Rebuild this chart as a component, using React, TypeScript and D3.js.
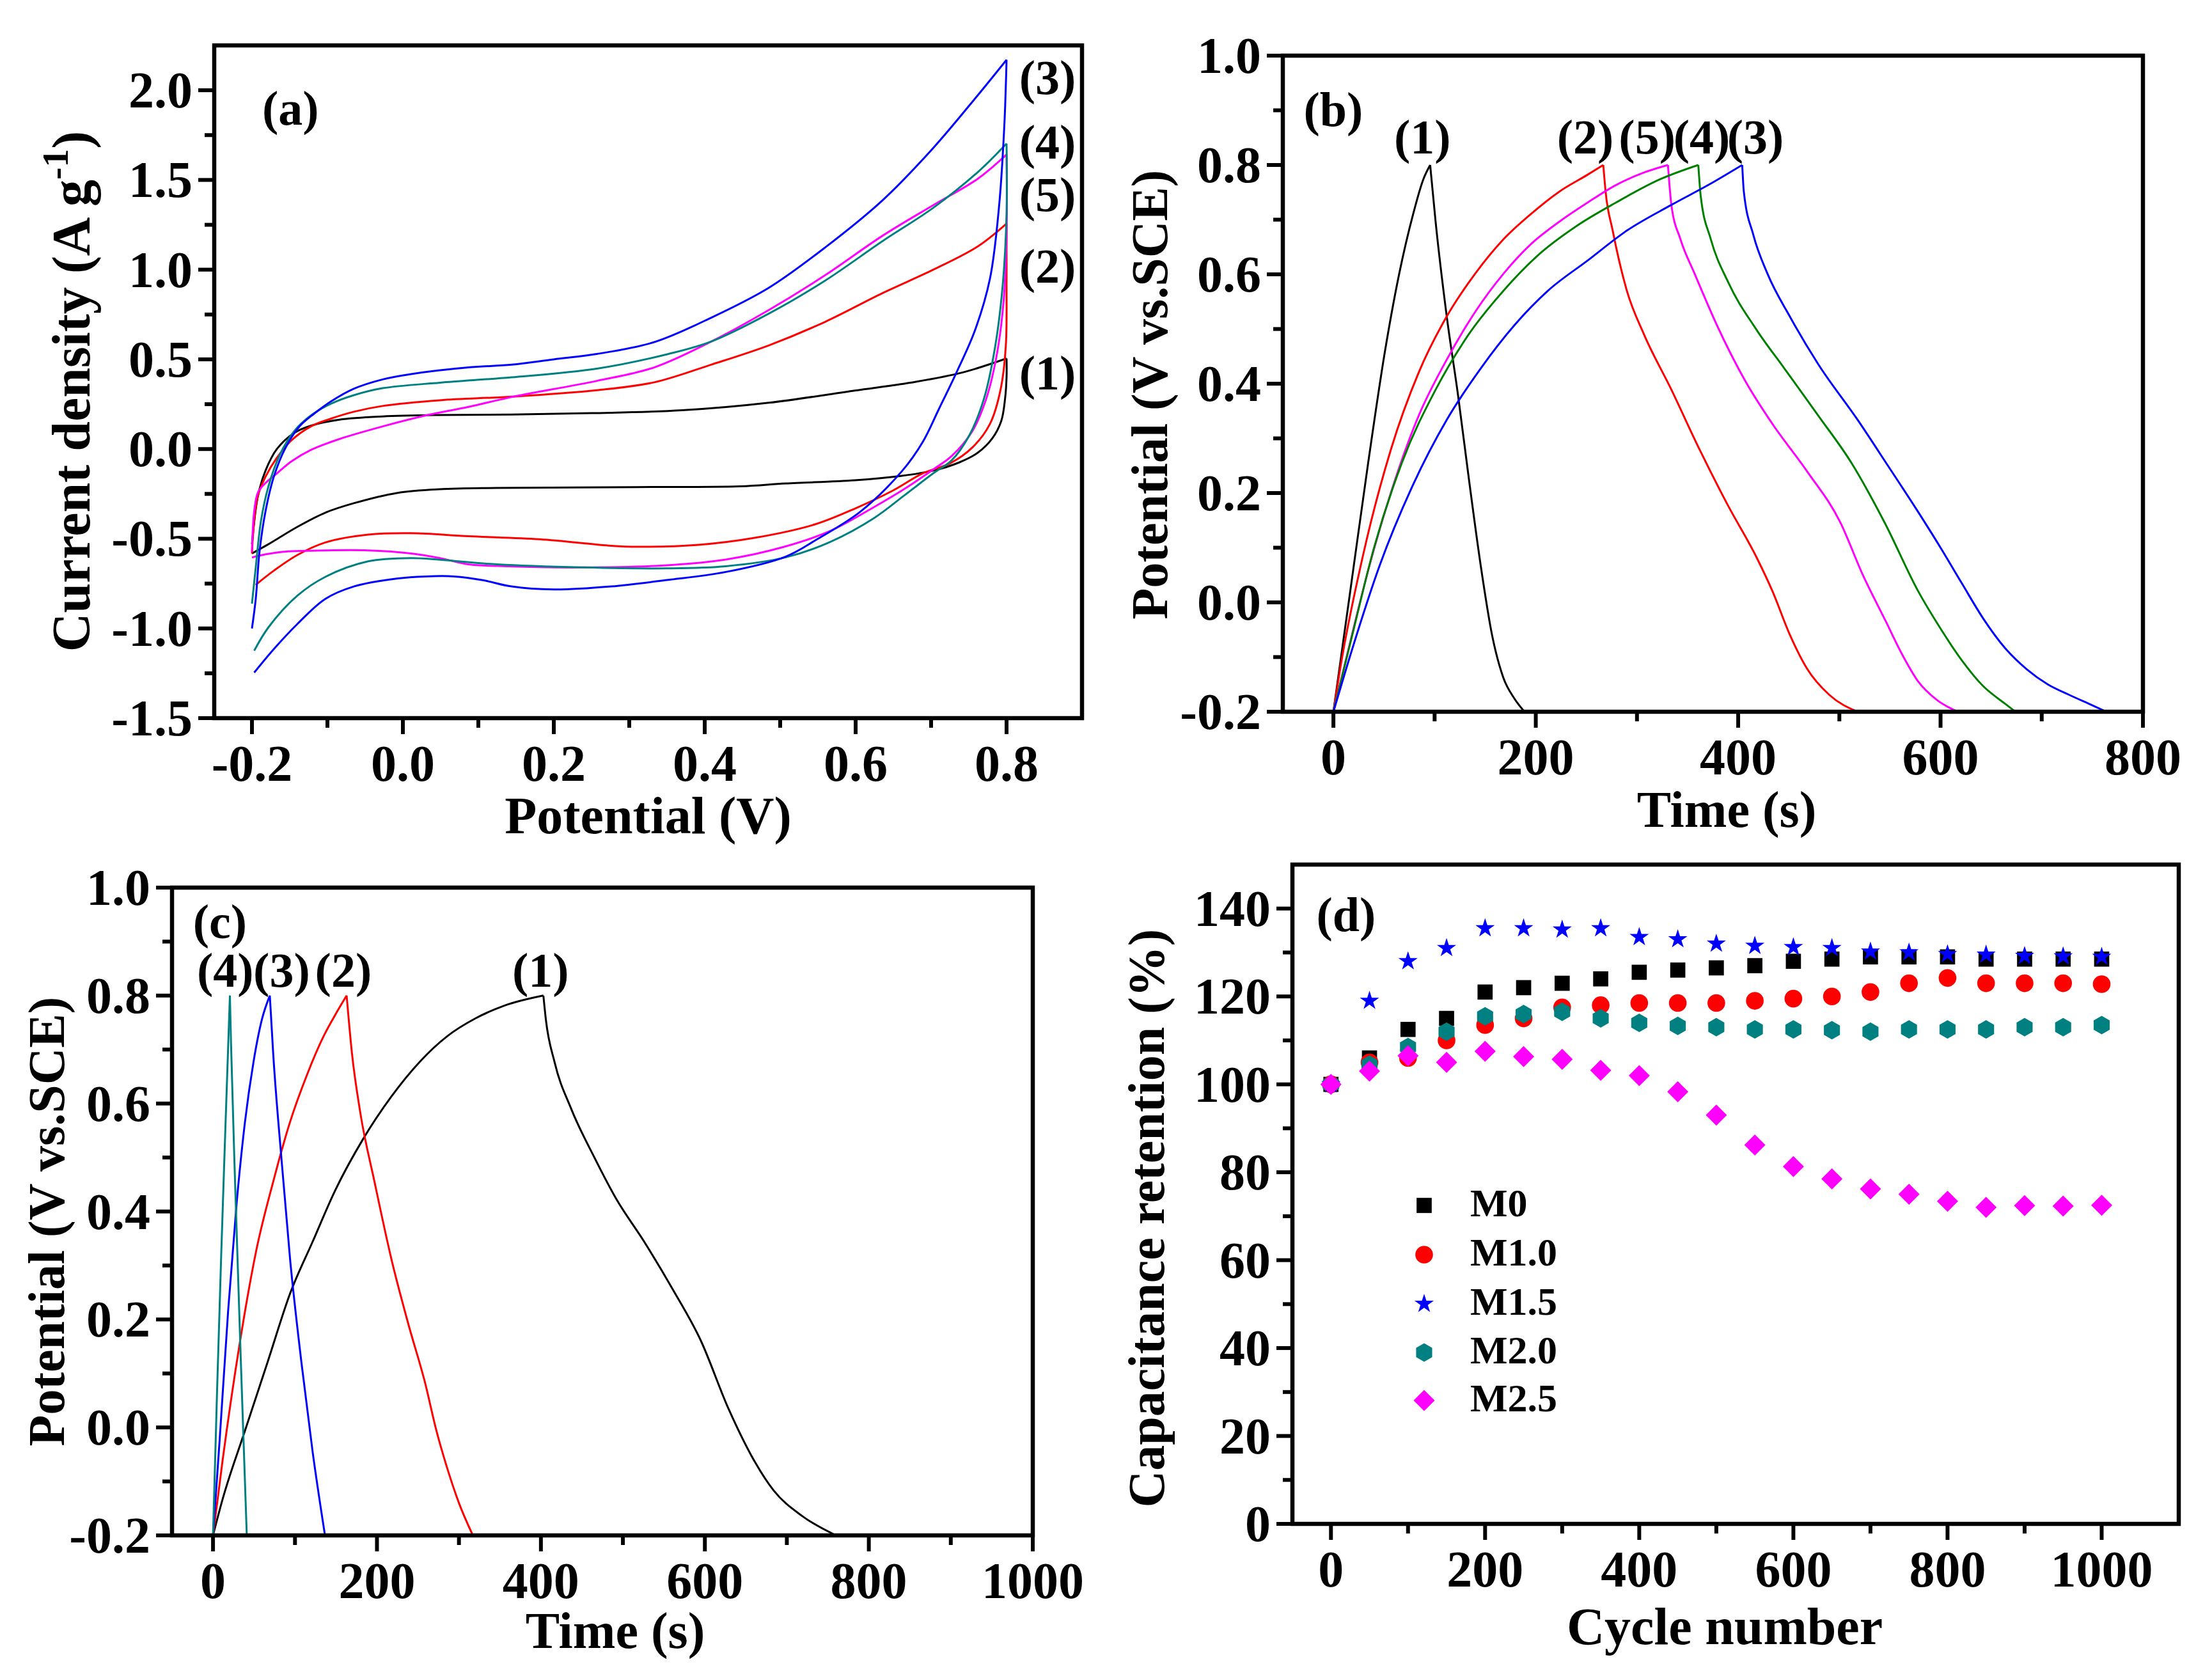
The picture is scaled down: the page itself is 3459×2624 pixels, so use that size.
import React from "react";
import * as d3 from "d3";

type Pt = [number, number];

const W = 3459;
const H = 2624;
const FONT = "'Liberation Serif', 'Times New Roman', Times, serif";

// ---------------- (a) cyclic voltammetry ----------------
const cvXMajor = [-0.2, 0, 0.2, 0.4, 0.6, 0.8];
const cvXMinor = [-0.1, 0.1, 0.3, 0.5, 0.7];
const cvYMajor = [-1.5, -1.0, -0.5, 0, 0.5, 1.0, 1.5, 2.0];
const cvYMinor = [-1.25, -0.75, -0.25, 0.25, 0.75, 1.25, 1.75];

const cv1Up: Pt[] = [[-0.2,-0.53],[-0.192,-0.26],[-0.182,-0.12],[-0.167,0.0],[-0.144,0.09],[-0.122,0.13],[-0.084,0.164],[-0.027,0.182],[0.049,0.19],[0.144,0.192],[0.25,0.2],[0.37,0.216],[0.485,0.258],[0.599,0.326],[0.68,0.375],[0.742,0.427],[0.8,0.505]];
const cv1Down: Pt[] = [[0.8,0.505],[0.8,0.4],[0.798,0.28],[0.793,0.157],[0.781,0.059],[0.762,-0.02],[0.737,-0.075],[0.703,-0.12],[0.66,-0.15],[0.599,-0.174],[0.507,-0.192],[0.447,-0.208],[0.31,-0.212],[0.125,-0.217],[0.049,-0.224],[-0.008,-0.245],[-0.065,-0.302],[-0.103,-0.355],[-0.14,-0.434],[-0.178,-0.53],[-0.2,-0.582]];

const cv2Up: Pt[] = [[-0.2,-0.582],[-0.197,-0.399],[-0.192,-0.259],[-0.182,-0.154],[-0.167,-0.049],[-0.148,0.047],[-0.122,0.126],[-0.095,0.17],[-0.065,0.208],[-0.027,0.24],[0.049,0.272],[0.144,0.292],[0.257,0.328],[0.333,0.372],[0.409,0.471],[0.485,0.578],[0.56,0.71],[0.636,0.87],[0.703,1.0],[0.762,1.13],[0.8,1.257]];
const cv2Down: Pt[] = [[0.8,1.257],[0.8,0.942],[0.799,0.574],[0.792,0.33],[0.778,0.14],[0.755,0.01],[0.725,-0.08],[0.689,-0.135],[0.65,-0.23],[0.6,-0.33],[0.546,-0.42],[0.4675,-0.494],[0.389,-0.535],[0.31,-0.545],[0.276,-0.539],[0.181,-0.503],[0.087,-0.486],[0.011,-0.469],[-0.046,-0.477],[-0.103,-0.521],[-0.14,-0.591],[-0.171,-0.678],[-0.195,-0.757]];

const cv3Up: Pt[] = [[-0.2,-1.0],[-0.195,-0.836],[-0.19,-0.573],[-0.182,-0.346],[-0.171,-0.154],[-0.156,0.003],[-0.137,0.126],[-0.118,0.196],[-0.095,0.266],[-0.065,0.336],[-0.027,0.388],[0.011,0.418],[0.087,0.455],[0.144,0.47],[0.2,0.5],[0.257,0.53],[0.333,0.596],[0.409,0.733],[0.485,0.899],[0.56,1.125],[0.636,1.388],[0.703,1.679],[0.762,1.973],[0.8,2.17]];
const cv3Down: Pt[] = [[0.8,2.17],[0.797,1.8],[0.79,1.35],[0.778,0.95],[0.758,0.66],[0.734,0.43],[0.71,0.22],[0.689,0.04],[0.662,-0.12],[0.606,-0.35],[0.55,-0.5],[0.507,-0.6],[0.428,-0.685],[0.35,-0.73],[0.276,-0.766],[0.2,-0.783],[0.144,-0.766],[0.106,-0.731],[0.068,-0.71],[0.03,-0.71],[-0.008,-0.722],[-0.065,-0.766],[-0.103,-0.836],[-0.14,-0.976],[-0.171,-1.115],[-0.197,-1.246]];

const cv4Up: Pt[] = [[-0.2,-0.862],[-0.195,-0.661],[-0.188,-0.399],[-0.178,-0.206],[-0.163,-0.031],[-0.144,0.1],[-0.122,0.187],[-0.095,0.253],[-0.065,0.3],[-0.027,0.339],[0.049,0.37],[0.144,0.4],[0.257,0.448],[0.352,0.53],[0.409,0.6],[0.485,0.755],[0.56,0.94],[0.636,1.16],[0.703,1.345],[0.762,1.544],[0.8,1.703]];
const cv4Down: Pt[] = [[0.8,1.703],[0.8,1.31],[0.795,0.918],[0.785,0.574],[0.77,0.28],[0.75,0.071],[0.727,-0.064],[0.703,-0.135],[0.664,-0.26],[0.625,-0.383],[0.566,-0.518],[0.507,-0.604],[0.428,-0.653],[0.35,-0.665],[0.238,-0.66],[0.125,-0.643],[0.049,-0.617],[0.011,-0.608],[-0.046,-0.626],[-0.103,-0.713],[-0.14,-0.818],[-0.178,-0.993],[-0.197,-1.124]];

const cv5Up: Pt[] = [[-0.2,-0.573],[-0.197,-0.346],[-0.192,-0.241],[-0.182,-0.189],[-0.167,-0.136],[-0.148,-0.07],[-0.122,-0.005],[-0.084,0.056],[-0.027,0.126],[0.03,0.187],[0.087,0.235],[0.144,0.29],[0.257,0.38],[0.333,0.455],[0.409,0.6],[0.485,0.775],[0.56,0.97],[0.636,1.19],[0.703,1.36],[0.762,1.507],[0.8,1.642]];
const cv5Down: Pt[] = [[0.8,1.642],[0.8,1.19],[0.796,0.82],[0.787,0.525],[0.773,0.28],[0.754,0.095],[0.727,-0.04],[0.703,-0.113],[0.664,-0.224],[0.625,-0.322],[0.566,-0.457],[0.507,-0.543],[0.428,-0.616],[0.35,-0.648],[0.238,-0.66],[0.125,-0.652],[0.087,-0.643],[0.049,-0.608],[0.011,-0.582],[-0.046,-0.565],[-0.103,-0.565],[-0.16,-0.573],[-0.19,-0.594],[-0.2,-0.605]];

const cvLabels = ["(1)", "(2)", "(3)", "(4)", "(5)"];

// ---------------- (b) charge/discharge, 5 samples ----------------
const gcdBXMajor = [0, 200, 400, 600, 800];
const gcdBXMinor = [100, 300, 500, 700];
const gcdYMajor = [-0.2, 0, 0.2, 0.4, 0.6, 0.8, 1.0];
const gcdYMinor = [-0.1, 0.1, 0.3, 0.5, 0.7, 0.9];

const gcdB1: Pt[] = [[0,-0.2],[17.8,0.036],[34.4,0.256],[51,0.46],[65,0.601],[78.9,0.711],[88.9,0.774],[95.6,0.8],[101,0.696],[112,0.523],[123,0.381],[134,0.224],[145.6,0.067],[156.7,-0.059],[167.8,-0.137],[178.9,-0.176],[188.9,-0.2]];
const gcdB2: Pt[] = [[0,-0.2],[6.7,-0.121],[28.9,0.083],[56.7,0.279],[84.4,0.421],[112,0.523],[140,0.601],[168,0.664],[195.6,0.711],[223,0.751],[251,0.782],[266.7,0.8],[269,0.751],[276,0.68],[290,0.57],[306.7,0.491],[334,0.389],[362,0.279],[390,0.177],[418,0.083],[434,0.02],[451,-0.059],[468,-0.121],[490,-0.169],[518,-0.2]];
const gcdB3: Pt[] = [[0,-0.2],[17.8,-0.09],[45.6,0.067],[78.9,0.216],[112,0.334],[145.6,0.428],[178.9,0.507],[212,0.57],[251,0.625],[290,0.68],[334,0.727],[373,0.766],[404,0.8],[405.6,0.751],[415,0.672],[429,0.601],[451,0.523],[479,0.436],[518,0.334],[548,0.25],[578,0.165],[600,0.1],[621,0.035],[642,-0.029],[663.5,-0.083],[685,-0.122],[706,-0.15],[727,-0.169],[748.5,-0.187],[764,-0.2]];
const gcdB4: Pt[] = [[0,-0.2],[17.8,-0.066],[40,0.099],[67.8,0.256],[101,0.389],[134,0.491],[168,0.57],[201,0.633],[240,0.688],[279,0.731],[323,0.774],[360.6,0.8],[363,0.743],[373,0.664],[390,0.586],[418,0.499],[445.6,0.428],[479,0.342],[512,0.255],[545,0.145],[578,0.02],[600,-0.048],[621,-0.106],[642,-0.153],[663.5,-0.185],[674,-0.2]];
const gcdB5: Pt[] = [[0,-0.2],[12.2,-0.106],[34.4,0.059],[56.7,0.2],[84.4,0.342],[112,0.444],[140,0.531],[168,0.601],[195.6,0.656],[223,0.696],[251,0.731],[279,0.763],[306.7,0.786],[330.6,0.8],[334,0.727],[343,0.664],[357,0.601],[379,0.507],[407,0.405],[434,0.326],[468,0.24],[501,0.146],[523,0.051],[546,-0.035],[562,-0.095],[578,-0.145],[596,-0.178],[617,-0.2]];
const gcdBLabels = ["(1)", "(2)", "(5)", "(4)", "(3)"];
const gcdBLabelTimes = [88, 249, 310, 364, 417];

// ---------------- (c) charge/discharge at different currents ----------------
const gcdCXMajor = [0, 200, 400, 600, 800, 1000];
const gcdCXMinor = [100, 300, 500, 700, 900];
const gcdC1: Pt[] = [[0,-0.2],[11.7,-0.133],[39,-0.006],[66.6,0.121],[94,0.248],[121.5,0.344],[149,0.439],[183,0.534],[217.6,0.613],[252,0.677],[286,0.725],[320.5,0.758],[354.8,0.781],[403,0.8],[406,0.756],[416.6,0.677],[437,0.59],[464.6,0.502],[492,0.423],[526,0.344],[560.7,0.256],[595,0.161],[629,0.034],[657,-0.053],[684,-0.117],[718.6,-0.164],[760,-0.2]];
const gcdC2: Pt[] = [[0,-0.2],[11.7,-0.061],[32.3,0.153],[52.8,0.328],[73.4,0.455],[94,0.566],[114.6,0.653],[135,0.725],[149,0.764],[163,0.8],[169.5,0.693],[179.8,0.582],[197,0.455],[217.6,0.312],[238,0.193],[258.8,0.082],[272.5,-0.006],[286,-0.077],[300,-0.14],[317,-0.2]];
const gcdC3: Pt[] = [[0,-0.2],[8.2,-0.021],[18.5,0.217],[28.8,0.415],[39,0.566],[49.4,0.677],[59.7,0.756],[69.3,0.8],[73.4,0.693],[83.7,0.494],[94,0.312],[107.8,0.121],[121.5,-0.045],[136.6,-0.2]];
const gcdC4: Pt[] = [[0,-0.2],[5,0.07],[10,0.32],[15,0.55],[20.6,0.8],[22,0.71],[27,0.45],[34,0.12],[41.2,-0.2]];
const gcdCLabels = ["(1)", "(2)", "(3)", "(4)"];
const gcdCLabelTimes = [399.5, 159, 83.7, 15];

// ---------------- (d) cycling stability ----------------
const cycleNumbers = [0,50,100,150,200,250,300,350,400,450,500,550,600,650,700,750,800,850,900,950,1000];
const retM0 = [100,106,112.5,115,121,122,123,124,125.5,126,126.5,127,128,128.5,129,129,129,128.5,128.5,128.5,128.5];
const retM10 = [100,105,106,110,113.5,115,117.5,118,118.5,118.5,118.5,119,119.5,120,121,123,124.2,123,123,123,122.8];
const retM15 = [100,119,128,131,135.5,135.5,135.2,135.5,133.5,133,132,131.5,131.2,131,130.2,130,129.6,129.5,129.2,129.1,129];
const retM20 = [100,104.5,108.5,112,115.5,116,116.5,115,114,113.3,113,112.5,112.5,112.3,112,112.5,112.5,112.5,113,113,113.5];
const retM25 = [100,103,106.5,105,107.5,106.3,105.7,103.2,102,98.3,93,86.2,81.3,78.5,76.2,75,73.4,72,72.4,72.3,72.5];
const retNames = ["M0", "M1.0", "M1.5", "M2.0", "M2.5"];
const retXMajor = [0, 200, 400, 600, 800, 1000];
const retXMinor = [100, 300, 500, 700, 900];
const retYMajor = [0, 20, 40, 60, 80, 100, 120, 140];
const retYMinor = [10, 30, 50, 70, 90, 110, 130];

// ---------------- styling / layout ----------------
const C_BLACK = "#000000";
const C_RED = "#ff0000";
const C_BLUE = "#0000ff";
const C_TEAL = "#008080";
const C_GREEN = "#008000";
const C_MAG = "#ff00ff";

const boxA = { left: 335, right: 1692, top: 71, bottom: 1123 };
const boxB = { left: 2006, right: 3351, top: 87, bottom: 1113 };
const boxC = { left: 269, right: 1615, top: 1388, bottom: 2401 };
const boxD = { left: 2021, right: 3407, top: 1352, bottom: 2383 };

const f1 = (v: number) => v.toFixed(1);
const f0 = (v: number) => String(Math.round(v));

function Axes(props: {
  xs: d3.ScaleLinear<number, number>;
  ys: d3.ScaleLinear<number, number>;
  xMajor: number[];
  xMinor: number[];
  yMajor: number[];
  yMinor: number[];
  fx: (v: number) => string;
  fy: (v: number) => string;
}) {
  const { xs, ys, xMajor, xMinor, yMajor, yMinor, fx, fy } = props;
  const [xl, xr] = xs.range();
  const [yb, yt] = ys.range();
  const tw = 6;
  const txt = { fontFamily: FONT, fontWeight: "bold" as const, fontSize: 80, fill: "#000" };
  return (
    <g>
      {xMajor.map((v, i) => (
        <line key={"xM" + i} x1={xs(v)} x2={xs(v)} y1={yb} y2={yb + 25} stroke="#000" strokeWidth={tw} />
      ))}
      {xMinor.map((v, i) => (
        <line key={"xm" + i} x1={xs(v)} x2={xs(v)} y1={yb} y2={yb + 15} stroke="#000" strokeWidth={tw} />
      ))}
      {yMajor.map((v, i) => (
        <line key={"yM" + i} x1={xl} x2={xl - 25} y1={ys(v)} y2={ys(v)} stroke="#000" strokeWidth={tw} />
      ))}
      {yMinor.map((v, i) => (
        <line key={"ym" + i} x1={xl} x2={xl - 15} y1={ys(v)} y2={ys(v)} stroke="#000" strokeWidth={tw} />
      ))}
      {xMajor.map((v, i) => (
        <text key={"xt" + i} x={xs(v)} y={yb + 98} textAnchor="middle" {...txt}>
          {fx(v)}
        </text>
      ))}
      {yMajor.map((v, i) => (
        <text key={"yt" + i} x={xl - 34} y={ys(v) + 27} textAnchor="end" {...txt}>
          {fy(v)}
        </text>
      ))}
      <rect x={xl} y={yt} width={xr - xl} height={yb - yt} fill="none" stroke="#000" strokeWidth={6.5} />
    </g>
  );
}

const boldText = { fontFamily: FONT, fontWeight: "bold" as const, fill: "#000" };

// split a charge/discharge record at its peak so the vertex stays sharp
function splitAtPeak(d: Pt[]): Pt[][] {
  const k = d3.maxIndex(d, (p) => p[1]);
  return [d.slice(0, k + 1), d.slice(k)];
}

function PanelA() {
  const xs = d3.scaleLinear().domain([-0.25, 0.9]).range([boxA.left, boxA.right]);
  const ys = d3.scaleLinear().domain([-1.5, 2.25]).range([boxA.bottom, boxA.top]);
  const line = d3
    .line<Pt>()
    .x((d) => xs(d[0]))
    .y((d) => ys(d[1]))
    .curve(d3.curveCatmullRom.alpha(0.5));
  const curves: { up: Pt[]; down: Pt[]; color: string }[] = [
    { up: cv1Up, down: cv1Down, color: C_BLACK },
    { up: cv2Up, down: cv2Down, color: C_RED },
    { up: cv5Up, down: cv5Down, color: C_MAG },
    { up: cv4Up, down: cv4Down, color: C_TEAL },
    { up: cv3Up, down: cv3Down, color: C_BLUE },
  ];
  const labelY = [590, 423, 128, 229, 311];
  return (
    <g>
      {curves.map((c, i) => (
        <g key={i}>
          <path d={line(c.up) || ""} fill="none" stroke={c.color} strokeWidth={3} />
          <path d={line(c.down) || ""} fill="none" stroke={c.color} strokeWidth={3} />
        </g>
      ))}
      <Axes xs={xs} ys={ys} xMajor={cvXMajor} xMinor={cvXMinor} yMajor={cvYMajor} yMinor={cvYMinor} fx={f1} fy={f1} />
      {cvLabels.map((t, i) => (
        <text key={t} x={1638} y={labelY[i] + 19} textAnchor="middle" fontSize={76} {...boldText}>
          {t}
        </text>
      ))}
      <text x={410} y={195} fontSize={76} {...boldText}>(a)</text>
      <text x={(boxA.left + boxA.right) / 2} y={1303} textAnchor="middle" fontSize={82} {...boldText}>
        Potential (V)
      </text>
      <text transform={`translate(140,612) rotate(-90)`} textAnchor="middle" fontSize={84} {...boldText}>
        Current density (A g
        <tspan fontSize={58} dy={-34}>-1</tspan>
        <tspan dy={34}>)</tspan>
      </text>
    </g>
  );
}

function GcdPaths(props: { series: { d: Pt[]; color: string }[]; line: d3.Line<Pt> }) {
  return (
    <g>
      {props.series.map((s, i) =>
        splitAtPeak(s.d).map((seg, j) => (
          <path key={i + "-" + j} d={props.line(seg) || ""} fill="none" stroke={s.color} strokeWidth={3} />
        ))
      )}
    </g>
  );
}

function PanelB() {
  const xs = d3.scaleLinear().domain([-50, 800]).range([boxB.left, boxB.right]);
  const ys = d3.scaleLinear().domain([-0.2, 1.0]).range([boxB.bottom, boxB.top]);
  const line = d3
    .line<Pt>()
    .x((d) => xs(d[0]))
    .y((d) => ys(d[1]))
    .curve(d3.curveMonotoneX);
  const series: { d: Pt[]; color: string }[] = [
    { d: gcdB1, color: C_BLACK },
    { d: gcdB2, color: C_RED },
    { d: gcdB5, color: C_MAG },
    { d: gcdB4, color: C_GREEN },
    { d: gcdB3, color: C_BLUE },
  ];
  return (
    <g>
      <GcdPaths series={series} line={line} />
      <Axes xs={xs} ys={ys} xMajor={gcdBXMajor} xMinor={gcdBXMinor} yMajor={gcdYMajor} yMinor={gcdYMinor} fx={f0} fy={f1} />
      {gcdBLabels.map((t, i) => (
        <text key={i} x={xs(gcdBLabelTimes[i])} y={ys(0.845) + 20} textAnchor="middle" fontSize={76} {...boldText}>
          {t}
        </text>
      ))}
      <text x={2085} y={197} textAnchor="middle" fontSize={76} {...boldText}>(b)</text>
      <text x={2700} y={1293} textAnchor="middle" fontSize={80} {...boldText}>Time (s)</text>
      <text transform={`translate(1825,617) rotate(-90)`} textAnchor="middle" fontSize={80} {...boldText}>
        Potential (V vs.SCE)
      </text>
    </g>
  );
}

function PanelC() {
  const xs = d3.scaleLinear().domain([-50, 1000]).range([boxC.left, boxC.right]);
  const ys = d3.scaleLinear().domain([-0.2, 1.0]).range([boxC.bottom, boxC.top]);
  const line = d3
    .line<Pt>()
    .x((d) => xs(d[0]))
    .y((d) => ys(d[1]))
    .curve(d3.curveMonotoneX);
  const series: { d: Pt[]; color: string }[] = [
    { d: gcdC1, color: C_BLACK },
    { d: gcdC2, color: C_RED },
    { d: gcdC3, color: C_BLUE },
    { d: gcdC4, color: C_TEAL },
  ];
  return (
    <g>
      <GcdPaths series={series} line={line} />
      <Axes xs={xs} ys={ys} xMajor={gcdCXMajor} xMinor={gcdCXMinor} yMajor={gcdYMajor} yMinor={gcdYMinor} fx={f0} fy={f1} />
      {gcdCLabels.map((t, i) => (
        <text key={i} x={xs(gcdCLabelTimes[i])} y={ys(0.84) + 20} textAnchor="middle" fontSize={76} {...boldText}>
          {t}
        </text>
      ))}
      <text x={344} y={1467} textAnchor="middle" fontSize={76} {...boldText}>(c)</text>
      <text x={962} y={2577} textAnchor="middle" fontSize={80} {...boldText}>Time (s)</text>
      <text transform={`translate(100,1910) rotate(-90)`} textAnchor="middle" fontSize={80} {...boldText}>
        Potential (V vs.SCE)
      </text>
    </g>
  );
}

function hexagonPath(r: number) {
  const p = d3.path();
  d3.range(6).forEach((i) => {
    const a = -Math.PI / 2 + (i * Math.PI) / 3;
    const px = r * Math.cos(a);
    const py = r * Math.sin(a);
    if (i === 0) p.moveTo(px, py);
    else p.lineTo(px, py);
  });
  p.closePath();
  return p.toString();
}

function diamondPath(r: number) {
  const p = d3.path();
  p.moveTo(0, -r);
  p.lineTo(r, 0);
  p.lineTo(0, r);
  p.lineTo(-r, 0);
  p.closePath();
  return p.toString();
}

function PanelD() {
  const xs = d3.scaleLinear().domain([-50, 1100]).range([boxD.left, boxD.right]);
  const ys = d3.scaleLinear().domain([0, 150]).range([boxD.bottom, boxD.top]);
  const sq = d3.symbol().type(d3.symbolSquare).size(560)() || "";
  const ci = d3.symbol().type(d3.symbolCircle).size(600)() || "";
  const st = d3.symbol().type(d3.symbolStar).size(280)() || "";
  const hx = hexagonPath(14.5);
  const di = diamondPath(16.5);
  const series = [
    { name: retNames[0], v: retM0, color: C_BLACK, shape: sq },
    { name: retNames[1], v: retM10, color: C_RED, shape: ci },
    { name: retNames[2], v: retM15, color: C_BLUE, shape: st },
    { name: retNames[3], v: retM20, color: C_TEAL, shape: hx },
    { name: retNames[4], v: retM25, color: C_MAG, shape: di },
  ];
  const drawOrder = [0, 1, 3, 2, 4];
  const legendY = [1885, 1962, 2039, 2115, 2190];
  return (
    <g>
      <Axes xs={xs} ys={ys} xMajor={retXMajor} xMinor={retXMinor} yMajor={retYMajor} yMinor={retYMinor} fx={f0} fy={f0} />
      {drawOrder.map((si) => {
        const s = series[si];
        return (
          <g key={s.name}>
            {cycleNumbers.map((c, j) => (
              <path key={j} d={s.shape} transform={`translate(${xs(c)},${ys(s.v[j])})`} fill={s.color} />
            ))}
          </g>
        );
      })}
      {series.map((s, i) => (
        <g key={"lg" + i}>
          <path d={s.shape} transform={`translate(2227,${legendY[i]})`} fill={s.color} />
          <text x={2299} y={legendY[i] + 17} fontSize={62} {...boldText}>
            {s.name}
          </text>
        </g>
      ))}
      <text x={2105} y={1456} textAnchor="middle" fontSize={76} {...boldText}>(d)</text>
      <text x={2697} y={2571} textAnchor="middle" fontSize={82} {...boldText}>Cycle number</text>
      <text transform={`translate(1820,1905) rotate(-90)`} textAnchor="middle" fontSize={80} {...boldText}>
        Capacitance retention (%)
      </text>
    </g>
  );
}

export default function App() {
  return (
    <div style={{ position: "absolute", left: 0, top: 0 }}>
      <svg width={W} height={H} viewBox={`0 0 ${W} ${H}`} style={{ display: "block", background: "#fff" }}>
        <rect x={0} y={0} width={W} height={H} fill="#fff" />
        <PanelA />
        <PanelB />
        <PanelC />
        <PanelD />
      </svg>
    </div>
  );
}
